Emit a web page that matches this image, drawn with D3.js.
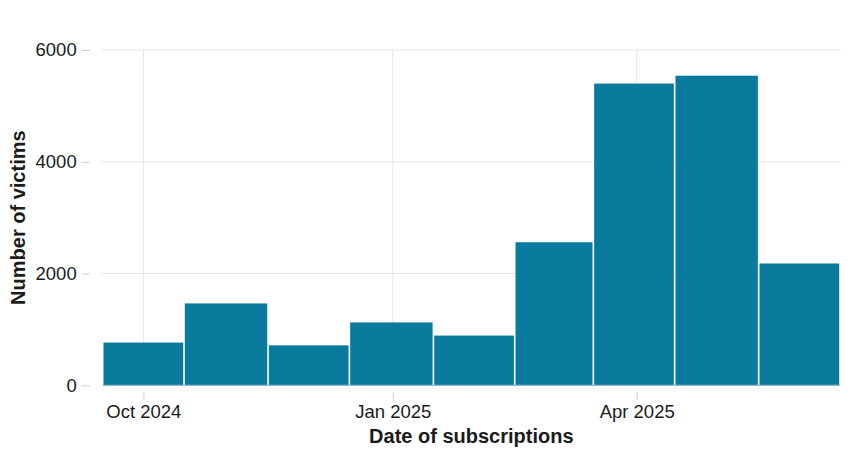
<!DOCTYPE html>
<html>
<head>
<meta charset="utf-8">
<script src="https://cdn.jsdelivr.net/npm/d3@7"></script>
<style>
  html, body { margin: 0; padding: 0; background: #fff; }
  svg { display: block; font-family: "Liberation Sans", Arial, Helvetica, sans-serif; }
</style>
</head>
<body>
<svg id="chart" width="862" height="456"></svg>
<script>
// ---- data ----
const binStarts = ["2024-09-16","2024-10-16","2024-11-16","2024-12-16","2025-01-16","2025-02-15","2025-03-16","2025-04-15","2025-05-16"];
const binEnds   = ["2024-10-16","2024-11-16","2024-12-16","2025-01-16","2025-02-15","2025-03-16","2025-04-15","2025-05-16","2025-06-15"];
const victims   = [765, 1465, 715, 1125, 890, 2560, 5400, 5540, 2180];
const xTickDates  = ["2024-10-01","2025-01-01","2025-04-01"];
const xTickLabels = ["Oct 2024","Jan 2025","Apr 2025"];
const yTicks      = [0, 2000, 4000, 6000];
const xTitle = "Date of subscriptions";
const yTitle = "Number of victims";

(function () {
const parse = d3.utcParse("%Y-%m-%d");
const bins = binStarts.map((s, i) => ({x0: parse(s), x1: parse(binEnds[i]), v: victims[i]}));

const svg = d3.select("#chart");
const mLeft = 102.7, mRight = 840, mTop = 50, mBottom = 385.3;

const x = d3.scaleUtc()
  .domain([bins[0].x0, bins[bins.length - 1].x1])
  .range([mLeft, mRight]);
const y = d3.scaleLinear().domain([0, 6000]).range([mBottom, mTop]);

const gridColor = "#e6e6e6";
const tickColor = "#cfcfcf";
const textColor = "#1b1b1b";

// horizontal gridlines
svg.append("g").selectAll("line").data(yTicks.filter(t => t > 0)).join("line")
  .attr("x1", mLeft - 1).attr("x2", mRight + 1)
  .attr("y1", d => y(d)).attr("y2", d => y(d))
  .attr("stroke", gridColor).attr("stroke-width", 1);

// vertical gridlines
svg.append("g").selectAll("line").data(xTickDates.map(parse)).join("line")
  .attr("x1", d => x(d)).attr("x2", d => x(d))
  .attr("y1", mTop).attr("y2", mBottom)
  .attr("stroke", gridColor).attr("stroke-width", 1);

// bars
svg.append("g").selectAll("rect").data(bins).join("rect")
  .attr("x", d => x(d.x0) + 0.8)
  .attr("width", d => x(d.x1) - x(d.x0) - 1.6)
  .attr("y", d => y(d.v))
  .attr("height", d => y(0) - y(d.v))
  .attr("fill", "#0b7b9d");

// baseline
svg.append("line")
  .attr("x1", mLeft).attr("x2", mRight)
  .attr("y1", y(0)).attr("y2", y(0))
  .attr("stroke", "#8fb6c6").attr("stroke-width", 1.2);

// y axis
const yAxis = d3.axisLeft(y).tickValues(yTicks).tickFormat(d3.format("d"))
  .tickSize(8).tickPadding(5);
const gy = svg.append("g").attr("transform", `translate(${mLeft - 13},0)`).call(yAxis);
gy.select(".domain").remove();
gy.selectAll(".tick line").attr("stroke", tickColor);
gy.selectAll(".tick text")
  .attr("fill", textColor)
  .style("font-size", "18.5px")
  .style("font-family", "Liberation Sans, Arial, sans-serif");

// x axis
const xAxis = d3.axisBottom(x).tickValues(xTickDates.map(parse))
  .tickFormat((d, i) => xTickLabels[i]).tickSize(7).tickPadding(5);
const gx = svg.append("g").attr("transform", `translate(0,${mBottom + 7.5})`).call(xAxis);
gx.select(".domain").remove();
gx.selectAll(".tick line").attr("stroke", tickColor);
gx.selectAll(".tick text")
  .attr("fill", textColor)
  .attr("dy", null)
  .attr("y", 25)
  .style("font-size", "18.5px")
  .style("font-family", "Liberation Sans, Arial, sans-serif");

// axis titles
svg.append("text")
  .attr("x", (mLeft + mRight) / 2).attr("y", 442.5)
  .attr("text-anchor", "middle")
  .attr("fill", textColor)
  .style("font-size", "20px").style("font-weight", "bold")
  .text(xTitle);

svg.append("text")
  .attr("transform", `translate(25,${(mTop + mBottom) / 2}) rotate(-90)`)
  .attr("text-anchor", "middle")
  .attr("fill", textColor)
  .style("font-size", "20px").style("font-weight", "bold")
  .text(yTitle);
})();
</script>
</body>
</html>
